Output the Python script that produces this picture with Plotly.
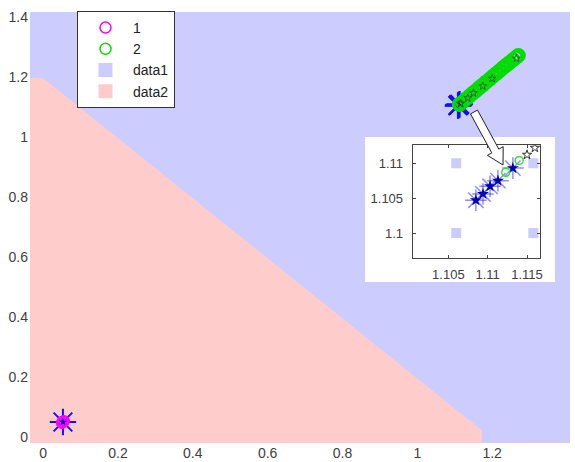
import plotly.graph_objects as go

# ---------------- data ----------------
x_tick_vals = [0, 0.2, 0.4, 0.6, 0.8, 1.0, 1.2, 1.4]
y_tick_vals = [0, 0.2, 0.4, 0.6, 0.8, 1.0, 1.2, 1.4]
inset_x_ticks = [1.105, 1.11, 1.115]
inset_x_labels = ["1.105", "1.11", "1.115"]
inset_y_ticks = [1.1, 1.105, 1.11]
inset_y_labels = ["1.1", "1.105", "1.11"]

# decision regions (boundary vertices)
data1_region_x = [-0.035, 1.408, 1.408, -0.035]
data1_region_y = [-0.02, -0.02, 1.417, 1.417]
data2_region_x = [-0.035, -0.035, 0.0, 1.173, 1.173]
data2_region_y = [-0.02, 1.197, 1.197, 0.022, -0.02]

# grid points of data1 visible in the zoomed inset
data1_grid_x = [1.106, 1.106, 1.1158, 1.1158]
data1_grid_y = [1.110, 1.100, 1.110, 1.100]

# series "1" (magenta circles) near the origin
s1_x = [0.050, 0.053, 0.056, 0.052]
s1_y = [0.047, 0.050, 0.053, 0.052]

# series "2" (green circles) trail
s2_x = [1.1123, 1.1140, 1.121, 1.130, 1.139, 1.148, 1.157, 1.166, 1.175, 1.184,
        1.193, 1.202, 1.211, 1.220, 1.229, 1.238, 1.247, 1.256, 1.264, 1.270]
s2_y = [1.1087, 1.1104, 1.117, 1.127, 1.136, 1.146, 1.155, 1.165, 1.174, 1.184,
        1.193, 1.203, 1.212, 1.221, 1.231, 1.240, 1.249, 1.258, 1.266, 1.272]

# blue asterisks (start points)
ast_x = [0.053, 1.1085, 1.1094, 1.1103, 1.1113, 1.1132]
ast_y = [0.050, 1.1047, 1.1056, 1.1067, 1.1075, 1.1093]

# black open stars along the trail
star_x = [1.1150, 1.1160, 1.135, 1.150, 1.175, 1.200, 1.265]
star_y = [1.1112, 1.1122, 1.130, 1.147, 1.170, 1.195, 1.262]

BLUE_REG = "#ccccff"
PINK_REG = "#ffcccc"
MAGENTA = "#ff00ff"
GREEN = "#00dd00"
FONT = "Liberation Sans, Arial, sans-serif"

W, H = 575, 462
L, R, T, B = 30, 5, 12, 19

fig = go.Figure()

# ---------------- main axes ----------------
fig.add_trace(go.Scatter(x=data1_region_x, y=data1_region_y, fill="toself", mode="none",
                         fillcolor=BLUE_REG, showlegend=False, hoverinfo="skip"))
fig.add_trace(go.Scatter(x=data2_region_x, y=data2_region_y, fill="toself", mode="none",
                         fillcolor=PINK_REG, showlegend=False, hoverinfo="skip"))
fig.add_trace(go.Scatter(x=ast_x, y=ast_y, mode="markers", showlegend=False,
                         marker=dict(symbol="asterisk-open", size=22, color="#1010ff",
                                     line=dict(color="#1010ff", width=2))))
fig.add_trace(go.Scatter(x=s1_x, y=s1_y, mode="markers", name="1", showlegend=False,
                         marker=dict(symbol="circle-open", size=9, color=MAGENTA,
                                     line=dict(color=MAGENTA, width=3))))
fig.add_trace(go.Scatter(x=ast_x, y=ast_y, mode="markers", showlegend=False,
                         marker=dict(symbol="star", size=6, color="#0000a0",
                                     line=dict(width=0))))
fig.add_trace(go.Scatter(x=s2_x, y=s2_y, mode="markers", name="2", showlegend=False,
                         marker=dict(symbol="circle-open", size=12, color=GREEN,
                                     line=dict(color=GREEN, width=3))))
fig.add_trace(go.Scatter(x=star_x, y=star_y, mode="markers", showlegend=False,
                         marker=dict(symbol="star-open", size=6, color="#336633",
                                     line=dict(color="#336633", width=1))))

# legend entries
fig.add_trace(go.Scatter(x=[None], y=[None], mode="markers", name="1", legendrank=1,
                         marker=dict(symbol="circle-open", size=11, color=MAGENTA,
                                     line=dict(color=MAGENTA, width=1.5))))
fig.add_trace(go.Scatter(x=[None], y=[None], mode="markers", name="2", legendrank=2,
                         marker=dict(symbol="circle-open", size=11, color=GREEN,
                                     line=dict(color=GREEN, width=1.5))))
fig.add_trace(go.Scatter(x=[None], y=[None], mode="markers", name="data1", legendrank=3,
                         marker=dict(symbol="square", size=14, color=BLUE_REG)))
fig.add_trace(go.Scatter(x=[None], y=[None], mode="markers", name="data2", legendrank=4,
                         marker=dict(symbol="square", size=14, color=PINK_REG)))

# ---------------- white panel behind inset ----------------
fig.add_trace(go.Scatter(x=[0, 1, 1, 0], y=[0, 0, 1, 1], fill="toself", mode="none",
                         fillcolor="white", showlegend=False, hoverinfo="skip",
                         xaxis="x2", yaxis="y2"))

# ---------------- inset axes ----------------
fig.add_trace(go.Scatter(x=data1_grid_x, y=data1_grid_y, mode="markers", showlegend=False,
                         xaxis="x3", yaxis="y3",
                         marker=dict(symbol="square", size=10, color=BLUE_REG)))
fig.add_trace(go.Scatter(x=ast_x, y=ast_y, mode="markers", showlegend=False,
                         xaxis="x3", yaxis="y3",
                         marker=dict(symbol="asterisk-open", size=18, color="rgba(30,30,255,0.5)",
                                     line=dict(color="rgba(30,30,255,0.5)", width=1.5))))
fig.add_trace(go.Scatter(x=ast_x, y=ast_y, mode="markers", showlegend=False,
                         xaxis="x3", yaxis="y3",
                         marker=dict(symbol="star", size=9, color="#0000aa",
                                     line=dict(width=0))))
fig.add_trace(go.Scatter(x=s2_x, y=s2_y, mode="markers", showlegend=False,
                         xaxis="x3", yaxis="y3",
                         marker=dict(symbol="circle-open", size=8, color="#33dd33",
                                     line=dict(color="#33dd33", width=1.5))))
fig.add_trace(go.Scatter(x=star_x, y=star_y, mode="markers", showlegend=False,
                         xaxis="x3", yaxis="y3",
                         marker=dict(symbol="star-open", size=7, color="#333333",
                                     line=dict(color="#333333", width=1))))

pw, ph = W - L - R, H - T - B


def px2paper(px, py):
    return (px - L) / pw, 1 - (py - T) / ph


# hollow arrow (pixel geometry -> paper)
arrow_px = [(477.5, 110.1), (498.8, 149.1), (503.2, 146.7), (503.0, 165.0),
            (487.4, 155.3), (491.8, 152.9), (470.5, 113.9)]
pts = [px2paper(a, b) for a, b in arrow_px]
path = "M " + " L ".join(f"{a:.5f},{b:.5f}" for a, b in pts) + " Z"

ax_font = dict(family=FONT, size=14, color="#404040")
in_font = dict(family=FONT, size=13, color="#404040")

box_x0, box_y0 = px2paper(365, 282)
box_x1, box_y1 = px2paper(555, 137)
in_x0, in_y0 = px2paper(412.7, 258)
in_x1, in_y1 = px2paper(540, 145)

fig.update_layout(
    width=W, height=H,
    margin=dict(l=L, r=R, t=T, b=B, pad=0, autoexpand=False),
    paper_bgcolor="white", plot_bgcolor="white",
    showlegend=True,
    xaxis=dict(range=[-0.035, 1.408], tickvals=x_tick_vals, showgrid=False, zeroline=False,
               showline=False, ticks="", tickfont=ax_font, domain=[0, 1], automargin=False),
    yaxis=dict(range=[-0.02, 1.417], tickvals=y_tick_vals, showgrid=False, zeroline=False,
               showline=False, ticks="", tickfont=ax_font, domain=[0, 1], automargin=False,
               ticklabelstandoff=1),
    xaxis2=dict(domain=[box_x0, box_x1], range=[0, 1], visible=False, anchor="y2"),
    yaxis2=dict(domain=[box_y0, box_y1], range=[0, 1], visible=False, anchor="x2"),
    xaxis3=dict(domain=[in_x0, in_x1], range=[1.10047, 1.11665], anchor="y3",
                tickvals=inset_x_ticks, ticktext=inset_x_labels, showgrid=False, zeroline=False,
                showline=True, mirror="ticks", linecolor="#444444", linewidth=1,
                ticks="inside", ticklen=3, tickcolor="#444444", tickfont=in_font,
                ticklabelstandoff=4, automargin=False),
    yaxis3=dict(domain=[in_y0, in_y1], range=[1.09644, 1.1126], anchor="x3",
                tickvals=inset_y_ticks, ticktext=inset_y_labels, showgrid=False, zeroline=False,
                showline=True, mirror="ticks", linecolor="#444444", linewidth=1,
                ticks="inside", ticklen=3, tickcolor="#444444", tickfont=in_font,
                ticklabelstandoff=6, automargin=False),
    legend=dict(x=(77 - L) / pw, y=1 - (11 - T) / ph, xanchor="left", yanchor="top",
                bgcolor="white", bordercolor="#333333", borderwidth=1,
                font=dict(family=FONT, size=14, color="#222222"),
                itemwidth=45, tracegroupgap=0),
    shapes=[dict(type="path", xref="paper", yref="paper", path=path,
                 fillcolor="white", line=dict(color="#222222", width=1), layer="above")],
)

fig.write_html("out.html", config={"displayModeBar": False},
               post_script="document.body.style.margin='0';document.body.style.padding='0';"
                           "document.documentElement.style.overflow='hidden';")
